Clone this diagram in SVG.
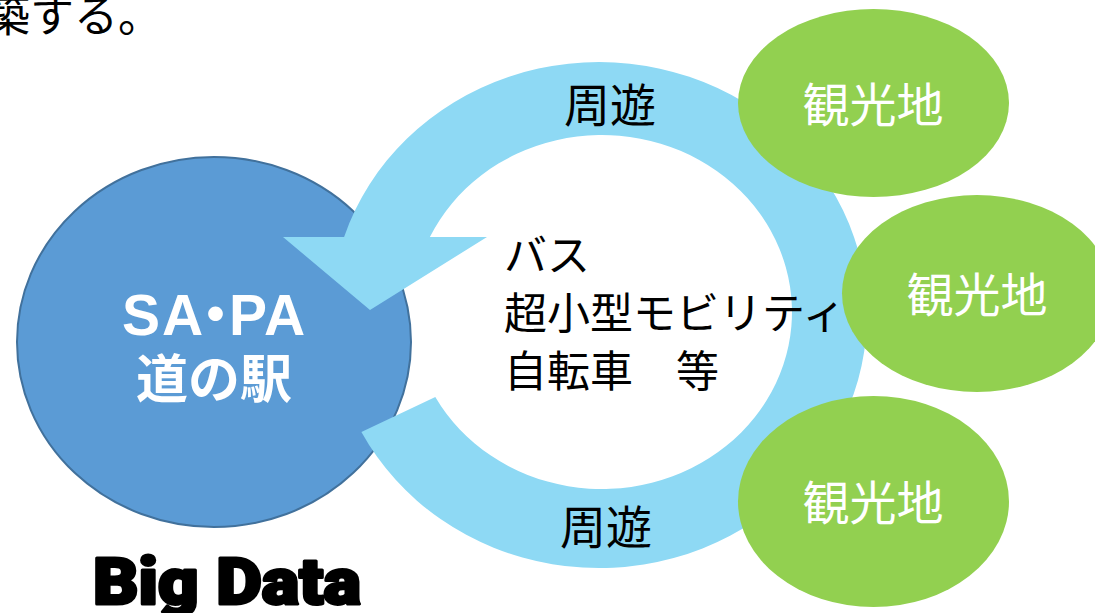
<svg xmlns="http://www.w3.org/2000/svg" width="1095" height="613" viewBox="0 0 1095 613">
<style>
.jp{font-family:"Noto Sans CJK JP","Noto Sans CJK SC",sans-serif;}
.blk{fill:#000;}
.wht{fill:#fff;}
.green{fill:#92D050;}
.band{fill:#8ED9F4;}
</style>
<rect x="0" y="0" width="1095" height="613" fill="#fff"/>
<text class="jp blk" x="-14" y="32" font-size="44">築する。</text>
<g id="hub">
<ellipse cx="214" cy="342" rx="197" ry="185" fill="#5B9BD5" stroke="#41719C" stroke-width="2"/>
</g>
<g id="connectors">
<path class="band" d="M 361.4 432 L 435.3 397 A 190 177 0 1 0 429.9 237 L 487 237 L 370 310 L 283 237 L 344.1 237 A 268 253 0 1 1 361.4 432 Z"/>
<text class="jp blk" x="610" y="122" font-size="46" text-anchor="middle">周遊</text>
<text class="jp blk" x="606" y="544" font-size="46" text-anchor="middle">周遊</text>
</g>
<g id="hub-label">
<text class="wht" x="122 162 187 229 264" y="335" font-size="57" font-weight="bold" font-family="'Liberation Sans','Noto Sans CJK JP',sans-serif">SA・PA</text>
<text class="jp wht" x="214" y="398" font-size="52" font-weight="bold" text-anchor="middle">道の駅</text>
</g>
<g id="modes">
<text class="jp blk" x="504" y="271" font-size="43">バス</text>
<text class="jp blk" x="504" y="329" font-size="43">超小型モビリティ</text>
<text class="jp blk" x="504" y="387" font-size="43">自転車　等</text>
</g>
<g id="spot1">
<ellipse class="green" cx="873.5" cy="103" rx="135.5" ry="94"/>
<text class="jp wht" x="873" y="122" font-size="47" text-anchor="middle">観光地</text>
</g>
<g id="spot2">
<ellipse class="green" cx="977" cy="293.5" rx="135" ry="98.5"/>
<text class="jp wht" x="977" y="312" font-size="47" text-anchor="middle">観光地</text>
</g>
<g id="spot3">
<ellipse class="green" cx="873.5" cy="501.5" rx="135.5" ry="105.5"/>
<text class="jp wht" x="873" y="520" font-size="47" text-anchor="middle">観光地</text>
</g>
<text x="93" y="604" font-size="64" font-weight="900" font-family="Roboto,'Liberation Sans',sans-serif" textLength="268" lengthAdjust="spacingAndGlyphs" fill="#000" stroke="#000" stroke-width="3" stroke-linejoin="round">Big Data</text>
</svg>
